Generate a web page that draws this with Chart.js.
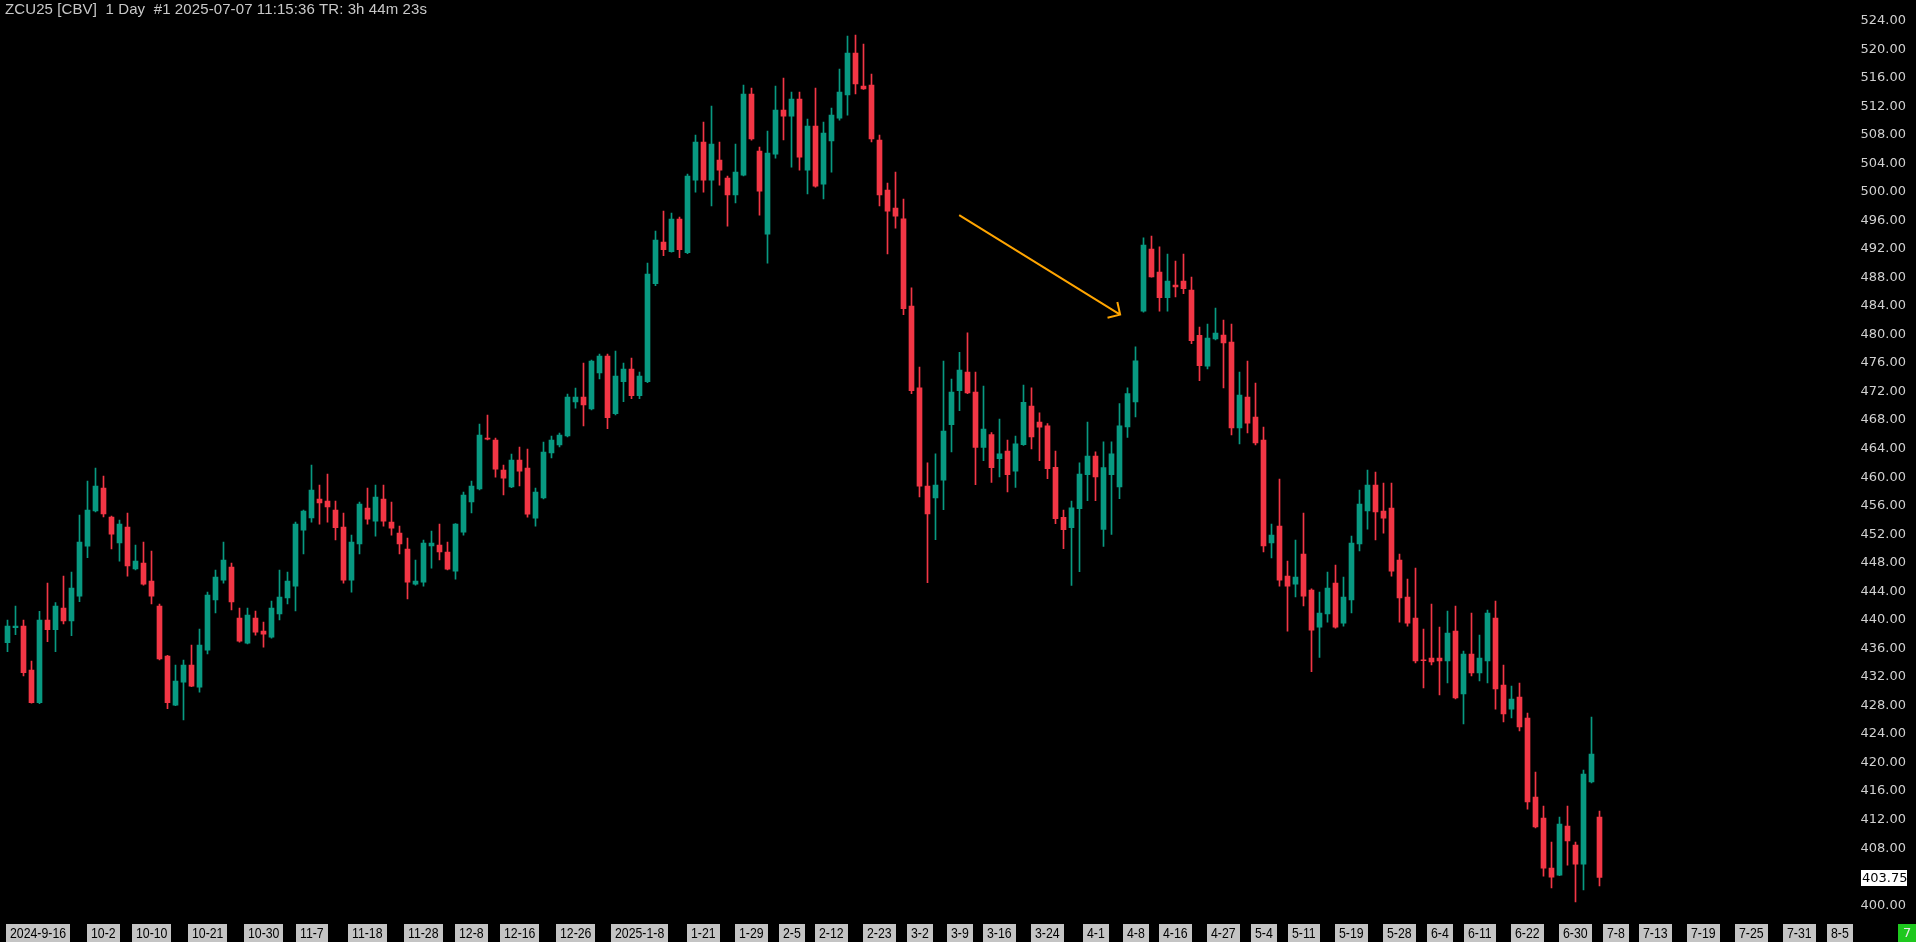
<!DOCTYPE html>
<html>
<head>
<meta charset="utf-8">
<script src="https://cdn.jsdelivr.net/npm/chart.js@4.4.1/dist/chart.umd.min.js"></script>
<style>
    body { margin: 0; background: #000; overflow: hidden; }
    #wrap { position: relative; width: 1916px; height: 942px; }
    #title {
        position: absolute; left: 5px; top: 0px;
        color: #c8c8c8; font: 15px "Liberation Sans", Arial, sans-serif;
        white-space: pre; letter-spacing: 0.1px;
    }
</style>
</head>
<body>
<div id="wrap">
    <canvas id="candleChart" width="1916" height="942"></canvas>
    <div id="title">ZCU25 [CBV]  1 Day  #1 2025-07-07 11:15:36 TR: 3h 44m 23s</div>
</div>
<script>
// daily bars
const opens = [436.66, 438.76, 439.0, 432.83, 428.25, 439.84, 438.48, 441.52, 439.7, 443.2,
    450.2, 455.12, 458.34, 454.28, 450.63, 452.87, 446.99, 447.83, 445.3, 441.8,
    434.79, 427.92, 431.14, 433.53, 430.44, 435.63, 442.64, 445.44, 447.27, 440.12,
    436.61, 440.12, 438.29, 437.45, 440.68, 442.92, 444.6, 452.45, 454.14, 456.8,
    456.52, 455.26, 452.87, 445.44, 450.49, 455.54, 453.71, 456.8, 453.57, 452.03,
    449.79, 444.88, 445.16, 450.21, 450.35, 449.37, 446.7, 452.17, 456.38, 458.2,
    465.35, 465.07, 460.86, 458.48, 462.27, 461.14, 454.13, 456.94, 463.25, 464.37,
    465.63, 470.4, 471.1, 469.42, 474.46, 476.84, 468.75, 473.24, 475.01, 471.28,
    473.24, 486.98, 492.82, 491.46, 496.04, 491.32, 501.51, 506.84, 501.51, 504.31,
    501.79, 499.41, 502.21, 513.57, 505.58, 493.94, 505.15, 511.32, 510.48, 512.87,
    502.91, 509.08, 500.95, 506.98, 510.2, 513.43, 519.31, 514.69, 514.83, 507.12,
    500.11, 497.58, 496.06, 483.84, 472.38, 458.61, 456.96, 459.46, 467.22, 471.98,
    474.58, 471.78, 464.02, 465.82, 462.46, 463.52, 460.71, 464.42, 469.82, 467.57,
    467.07, 461.26, 454.25, 452.8, 455.46, 460.21, 462.82, 452.55, 460.21, 458.51,
    466.92, 470.42, 483.14, 491.85, 488.6, 485.04, 486.8, 487.35, 486.09, 479.74,
    475.44, 479.23, 479.79, 478.81, 466.75, 471.1, 468.29, 465.07, 450.63, 453.01,
    446.0, 444.88, 449.09, 444.04, 438.85, 440.68, 445.02, 439.41, 442.64, 450.49,
    455.12, 458.76, 455.12, 455.54, 448.25, 443.06, 440.12, 434.23, 434.51, 434.51,
    434.09, 438.3, 429.47, 435.07, 432.41, 434.09, 440.12, 430.73, 427.36, 429.05,
    426.1, 415.03, 412.08, 405.07, 404.09, 410.96, 408.3, 405.63, 417.13, 412.22];

const highs = [439.84, 441.8, 439.84, 434.1, 441.05, 445.0, 442.3, 446.0, 446.57, 454.56,
    459.32, 461.14, 460.0, 454.4, 453.86, 454.84, 450.35, 450.77, 449.51, 442.08,
    434.9, 433.53, 434.23, 436.33, 438.57, 443.76, 446.85, 450.77, 447.83, 441.52,
    441.52, 441.1, 439.56, 442.5, 446.85, 446.57, 453.57, 455.26, 461.57, 458.76,
    460.3, 456.52, 454.84, 451.75, 456.38, 458.34, 458.76, 458.76, 456.38, 453.01,
    451.33, 448.25, 451.05, 452.31, 453.29, 450.77, 453.35, 457.78, 459.32, 467.31,
    468.57, 465.35, 461.56, 463.11, 464.09, 463.81, 458.34, 464.79, 465.63, 466.05,
    471.52, 472.36, 475.86, 476.28, 477.13, 477.12, 477.54, 475.86, 476.56, 474.59,
    489.87, 494.36, 497.16, 496.88, 496.32, 502.35, 507.82, 509.64, 511.88, 506.84,
    502.07, 506.56, 514.83, 514.41, 506.14, 508.38, 514.69, 515.81, 513.85, 513.85,
    510.06, 514.41, 509.64, 511.6, 517.07, 521.7, 521.84, 520.58, 516.37, 507.82,
    501.09, 502.63, 498.86, 486.39, 475.28, 461.86, 463.12, 476.13, 473.63, 477.38,
    480.09, 474.58, 472.63, 466.12, 468.02, 465.07, 465.62, 472.78, 472.38, 468.87,
    467.37, 463.52, 455.26, 456.51, 461.86, 467.57, 463.42, 464.82, 464.82, 470.17,
    472.38, 478.13, 493.4, 493.65, 492.15, 491.15, 490.15, 491.15, 487.9, 480.89,
    481.33, 483.57, 481.89, 481.33, 474.6, 476.14, 473.06, 466.89, 453.29, 459.6,
    448.11, 451.05, 454.84, 444.2, 443.76, 446.56, 447.55, 445.86, 451.61, 458.06,
    460.86, 460.58, 459.04, 459.04, 449.09, 445.58, 447.12, 438.58, 442.08, 438.86,
    441.1, 441.8, 435.49, 440.82, 437.74, 441.24, 442.5, 433.53, 430.59, 431.01,
    426.8, 418.53, 413.77, 408.72, 412.22, 413.77, 408.72, 418.81, 426.24, 413.06];

const lows = [435.4, 437.78, 432.0, 428.2, 428.1, 436.8, 435.4, 439.3, 437.64, 442.4,
    448.57, 455.0, 454.28, 449.79, 448.1, 446.0, 446.85, 444.74, 442.08, 434.23,
    427.41, 427.83, 425.82, 430.5, 429.74, 435.07, 440.82, 445.02, 441.24, 436.75,
    436.5, 437.73, 436.05, 437.31, 439.84, 442.08, 441.1, 449.09, 453.57, 453.29,
    453.57, 451.05, 445.02, 443.76, 449.09, 453.29, 451.61, 453.01, 451.75, 449.09,
    442.78, 444.74, 444.6, 447.12, 448.25, 446.85, 445.58, 451.75, 454.84, 458.06,
    465.07, 459.88, 457.36, 458.4, 458.62, 454.27, 453.01, 456.8, 462.55, 464.09,
    465.5, 469.55, 467.03, 469.28, 473.62, 466.65, 468.6, 470.44, 470.86, 470.86,
    473.1, 486.7, 490.9, 491.4, 490.62, 491.2, 499.83, 499.83, 497.87, 500.81,
    495.06, 498.29, 502.1, 507.1, 496.6, 489.87, 504.59, 507.12, 503.33, 502.91,
    499.55, 500.5, 498.85, 502.63, 509.92, 510.62, 513.57, 514.2, 506.84, 497.87,
    491.14, 494.78, 482.64, 471.58, 457.11, 445.09, 451.1, 455.31, 463.42, 469.17,
    471.58, 458.81, 462.16, 459.11, 459.91, 457.81, 458.41, 464.3, 463.82, 462.16,
    459.66, 453.35, 449.85, 444.69, 446.6, 456.56, 456.56, 450.15, 451.85, 456.86,
    465.42, 468.32, 483.0, 487.9, 483.14, 483.14, 485.14, 485.59, 478.59, 473.38,
    475.02, 479.1, 472.36, 465.77, 464.51, 466.05, 464.37, 449.37, 448.53, 444.6,
    438.29, 443.06, 441.8, 432.6, 434.6, 439.55, 438.7, 438.99, 440.82, 449.51,
    452.59, 451.05, 452.03, 446.0, 439.55, 438.99, 433.81, 430.31, 433.53, 429.33,
    431.01, 428.77, 425.26, 431.99, 431.29, 431.01, 427.36, 425.54, 426.1, 424.28,
    413.34, 410.7, 403.95, 402.27, 404.0, 405.49, 400.31, 401.99, 417.0, 402.55];

const closes = [439.0, 439.0, 432.45, 428.25, 439.84, 438.48, 441.8, 439.7, 444.32, 450.77,
    455.26, 458.62, 454.7, 451.89, 453.29, 447.41, 448.1, 444.88, 443.2, 434.37,
    428.25, 431.28, 433.53, 430.58, 436.33, 443.34, 445.86, 448.25, 442.36, 436.89,
    440.54, 438.15, 437.87, 441.52, 443.06, 445.3, 453.29, 455.12, 458.06, 456.24,
    455.68, 452.78, 445.44, 450.77, 456.1, 453.99, 457.08, 453.71, 452.73, 450.49,
    445.16, 445.3, 450.63, 450.63, 449.37, 446.98, 453.29, 457.36, 458.62, 465.77,
    465.2, 461.0, 459.74, 462.27, 460.72, 454.69, 457.78, 463.39, 465.07, 465.77,
    471.1, 471.1, 469.98, 476.14, 476.85, 468.19, 474.03, 475.01, 471.28, 474.03,
    488.33, 493.1, 491.74, 496.04, 491.74, 502.07, 506.84, 501.51, 506.56, 502.91,
    499.41, 502.63, 513.57, 507.26, 499.97, 505.3, 511.32, 510.48, 512.87, 504.73,
    509.08, 500.67, 508.1, 510.62, 513.85, 519.31, 514.97, 514.27, 507.26, 499.41,
    497.16, 496.46, 483.49, 471.98, 458.61, 454.71, 458.76, 466.32, 471.78, 474.88,
    471.68, 464.02, 466.62, 461.21, 463.12, 460.21, 464.52, 470.37, 465.52, 466.87,
    461.06, 454.05, 452.5, 455.56, 460.31, 462.82, 459.91, 461.21, 463.12, 467.07,
    471.58, 476.18, 492.4, 487.95, 485.04, 487.35, 486.54, 486.29, 478.99, 475.48,
    479.37, 480.07, 478.67, 466.75, 471.38, 467.45, 464.65, 450.21, 451.75, 445.44,
    444.6, 445.86, 443.2, 438.43, 440.82, 444.32, 438.85, 443.06, 450.63, 456.1,
    458.76, 454.98, 454.13, 446.7, 442.92, 439.41, 434.09, 434.13, 433.95, 434.09,
    438.02, 428.91, 435.07, 432.41, 434.51, 440.82, 430.17, 426.66, 428.77, 424.84,
    414.33, 410.82, 405.07, 403.81, 411.24, 408.86, 405.63, 418.25, 421.06, 403.75];

// date boxes on the time axis: bar slot -> text
const tickIndex = [0, 12, 18, 25, 32, 38, 45, 52, 58, 64, 71, 79, 87, 93, 98, 103, 109, 114, 119, 124,
    130, 136, 141, 146, 152, 157, 162, 168, 174, 179, 184, 190, 196, 201, 206, 212, 218, 224, 229];
const tickText = ['2024-9-16', '10-2', '10-10', '10-21', '10-30', '11-7', '11-18', '11-28', '12-8', '12-16',
    '12-26', '2025-1-8', '1-21', '1-29', '2-5', '2-12', '2-23', '3-2', '3-9', '3-16',
    '3-24', '4-1', '4-8', '4-16', '4-27', '5-4', '5-11', '5-19', '5-28', '6-4',
    '6-11', '6-22', '6-30', '7-8', '7-13', '7-19', '7-25', '7-31', '8-5'];
const slotCount = 232;

const priceTicks = [400, 408, 412, 416, 420, 424, 428, 432, 436, 440, 444, 448, 452, 456, 460,
    464, 468, 472, 476, 480, 484, 488, 492, 496, 500, 504, 508, 512, 516, 520, 524];
const lastPrice = 403.75;
const sessionMark = '7';

// orange arrow drawn on the chart (slot, price)
const arrowFrom = { x: 118.96, y: 496.6 };
const arrowTo = { x: 139.08, y: 482.65 };

const upColor = '#089981';
const downColor = '#f23645';

function drawOverlay(chart) {
    const ctx = chart.ctx;
    const xs = chart.scales.x;
    const ys = chart.scales.y;

    // arrow
    const x1 = xs.getPixelForValue(arrowFrom.x), y1 = ys.getPixelForValue(arrowFrom.y);
    const x2 = xs.getPixelForValue(arrowTo.x), y2 = ys.getPixelForValue(arrowTo.y);
    const ang = Math.atan2(y2 - y1, x2 - x1);
    ctx.save();
    ctx.strokeStyle = '#ffa500';
    ctx.lineWidth = 2;
    ctx.beginPath();
    ctx.moveTo(x1, y1);
    ctx.lineTo(x2, y2);
    ctx.moveTo(x2 + 13 * Math.cos(ang + Math.PI - 0.8), y2 + 13 * Math.sin(ang + Math.PI - 0.8));
    ctx.lineTo(x2, y2);
    ctx.lineTo(x2 + 13 * Math.cos(ang + Math.PI + 0.8), y2 + 13 * Math.sin(ang + Math.PI + 0.8));
    ctx.stroke();

    // date boxes (arial narrow look: plain sans squeezed sideways)
    const squeeze = 0.82;
    ctx.font = '15px "Liberation Sans", Arial, sans-serif';
    ctx.textBaseline = 'middle';
    ctx.textAlign = 'left';
    for (let k = 0; k < tickIndex.length; k++) {
        const tw = ctx.measureText(tickText[k]).width * squeeze;
        const w = Math.round(tw + 8);
        let left = Math.round(xs.getPixelForValue(tickIndex[k]) - w / 2);
        if (left < 6) left = 6;
        ctx.fillStyle = '#c4c4c4';
        ctx.fillRect(left, 924, w, 18);
        ctx.fillStyle = '#000';
        ctx.save();
        ctx.translate(left + 4, 934);
        ctx.scale(squeeze, 1);
        ctx.fillText(tickText[k], 0, 0);
        ctx.restore();
    }

    // last price box
    ctx.font = '13px "DejaVu Sans", sans-serif';
    const py = ys.getPixelForValue(lastPrice) + 1;
    ctx.fillStyle = '#fff';
    ctx.fillRect(1861, Math.round(py) - 8, 46, 16);
    ctx.fillStyle = '#000';
    ctx.fillText(lastPrice.toFixed(2), 1862, py + 0.5);

    // session box
    ctx.fillStyle = '#1ec81e';
    ctx.fillRect(1898, 924, 18, 18);
    ctx.fillStyle = '#e8e8e8';
    ctx.fillText(sessionMark, 1903, 934);
    ctx.restore();
}

function candleChart() {
    const ctx = document.getElementById('candleChart');
    let labels = [];
    let bodies = [];
    let wicks = [];
    let colors = [];

    for (let i = 0; i < slotCount; i++) {
        let k = tickIndex.indexOf(i);
        labels[i] = k >= 0 ? tickText[k] : '';
    }
    for (let i = 0; i < opens.length; i++) {
        bodies[i] = [opens[i], closes[i]];
        wicks[i] = [lows[i], highs[i]];
        colors[i] = closes[i] >= opens[i] ? upColor : downColor;
    }

    new Chart(ctx, {
        type: 'bar',
        data: {
            labels: labels,
            datasets: [{
                data: bodies,
                backgroundColor: colors,
                barThickness: 5,
                minBarLength: 1,
                grouped: false
            },
            {
                data: wicks,
                backgroundColor: colors,
                barThickness: 1,
                minBarLength: 1,
                grouped: false
            }]
        },
        options: {
            responsive: false,
            animation: false,
            devicePixelRatio: 1,
            layout: { padding: { left: 3.5, top: 0, right: 0, bottom: 0 } },
            plugins: {
                legend: { display: false },
                tooltip: { enabled: false }
            },
            scales: {
                x: {
                    type: 'category',
                    offset: true,
                    grid: { display: false, drawTicks: false },
                    border: { display: false },
                    ticks: { display: false },
                    afterFit: (s) => { s.height = 22; s.paddingLeft = 0; s.paddingRight = 0; }
                },
                y: {
                    position: 'right',
                    min: 397.79,
                    max: 526.75,
                    grid: { display: false, drawTicks: false },
                    border: { display: false },
                    afterBuildTicks: (s) => { s.ticks = priceTicks.map((v) => ({ value: v })); },
                    afterFit: (s) => { s.width = 56.5; s.paddingTop = 0; s.paddingBottom = 0; },
                    ticks: {
                        color: '#d0d0d0',
                        padding: 1,
                        labelOffset: 1,
                        font: { family: 'DejaVu Sans', size: 13 },
                        callback: (v) => Number(v).toFixed(2)
                    }
                }
            }
        },
        plugins: [{ id: 'overlay', afterDraw: drawOverlay }]
    });
}

candleChart();
</script>
</body>
</html>
